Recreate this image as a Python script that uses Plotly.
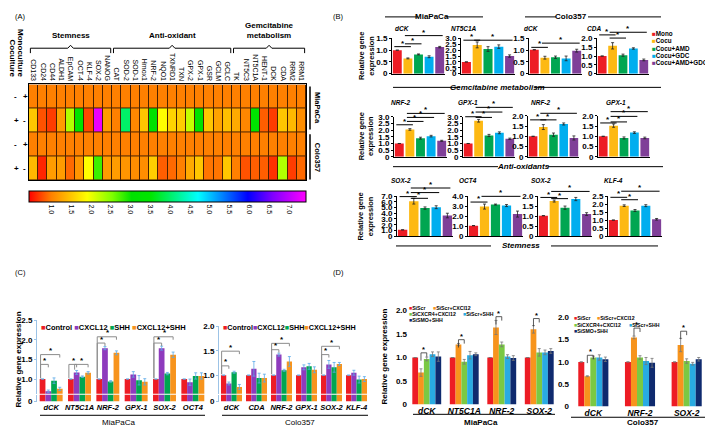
import plotly.graph_objects as go

W, H = 713, 426
FONT = "Liberation Sans, Arial, sans-serif"

# ---------------- panel A : heatmap of relative expression
genes = ["CD133", "CD24", "CD44", "ALDH1", "EpCAM", "OCT-4", "KLF-4", "SOX-2", "NANOG",
         "CAT", "SOD-2", "SOD-1", "Hmox1", "NRF-2", "NQO1", "TXNRD1", "TXN", "GPX-2", "GPX-1",
         "GSR", "GCLM", "GCLC",
         "TK", "NT5C3", "NT5C1A", "HENT-1", "DCK", "CDA", "RRM2", "RRM1"]
group_names = ["Stemness", "Anti-oxidant", "Gemcitabine<br>metabolism"]
group_sizes = [9, 13, 8]
row_ids = ["MiaPaCa mono", "MiaPaCa cocu", "Colo357 mono", "Colo357 cocu"]
monoculture = ["+", "-", "+", "-"]
coculture = ["-", "+", "-", "+"]

mia_mono = [1.0, 1.0, 1.0, 1.0, 1.0, 1.0, 1.0, 1.0, 1.0, 1.0, 1.0, 1.0, 1.0, 1.0, 1.0,
            1.0, 1.0, 1.0, 1.0, 1.0, 1.0, 1.0, 1.0, 1.0, 1.0, 1.0, 1.0, 1.0, 1.0, 1.0]
mia_cocu = [1.5, 0.8, 0.7, 1.2, 2.3, 3.1, 0.75, 7.3, 1.2, 1.0, 4.0, 1.05, 1.5, 3.1, 1.9,
            1.6, 1.55, 2.2, 3.1, 1.5, 1.25, 1.45, 1.3, 1.05, 3.2, 0.85, 0.7, 1.5, 1.4, 1.1]
colo_mono = [1.0, 1.0, 1.0, 1.0, 1.0, 1.0, 1.0, 1.0, 1.0, 1.0, 1.0, 1.0, 1.0, 1.0, 1.0,
             1.0, 1.0, 1.0, 1.0, 1.0, 1.0, 1.0, 1.0, 1.0, 1.0, 1.0, 1.0, 1.0, 1.0, 1.0]
colo_cocu = [1.4, 0.6, 1.2, 1.2, 0.9, 1.15, 1.9, 2.8, 1.2, 1.2, 1.15, 1.1, 1.1, 1.55, 0.85,
             0.9, 1.0, 1.3, 1.5, 0.95, 0.95, 1.5, 1.0, 0.8, 0.85, 0.85, 0.65, 2.3, 0.7, 0.9]
cbar_ticks = [1.0, 1.5, 2.0, 2.5, 3.0, 3.5, 4.0, 4.5, 5.0, 5.5, 6.0, 6.5, 7.0]

# ---------------- panel B : qPCR, five treatments
treatments = ["Mono", "Cocu", "Cocu+AMD", "Cocu+GDC", "Cocu+AMD+GDC"]
treat_colors = ["#ed1c24", "#fdb913", "#00a651", "#00aeef", "#7f3f98"]

mia_dck = [1.0, 0.65, 0.82, 0.72, 1.13]
mia_nt5c1a = [1.0, 2.45, 2.1, 2.3, 1.5]
colo_dck = [1.02, 0.68, 0.7, 0.65, 0.98]
colo_cda = [1.0, 1.58, 1.05, 1.43, 0.78]
mia_nrf2 = [1.0, 2.05, 1.4, 1.55, 1.2]
mia_gpx1 = [1.0, 2.7, 1.6, 1.8, 1.35]
colo_nrf2 = [1.0, 1.45, 1.08, 1.6, 0.92]
colo_gpx1 = [1.0, 1.52, 0.92, 1.18, 0.92]
mia_sox2 = [1.1, 6.1, 4.9, 5.05, 3.6]
mia_oct4 = [1.05, 2.95, 3.15, 3.05, 2.2]
colo_sox2 = [1.02, 1.75, 1.42, 1.85, 1.1]
colo_klf4 = [1.0, 1.9, 1.6, 1.9, 1.05]

mia_dck_err = [0.0, 0.02, 0.02, 0.04, 0.03]
mia_nt5c1a_err = [0.0, 0.25, 0.2, 0.15, 0.1]
colo_dck_err = [0.0, 0.06, 0.05, 0.1, 0.06]
colo_cda_err = [0.0, 0.18, 0.06, 0.04, 0.05]
mia_nrf2_err = [0.0, 0.06, 0.07, 0.06, 0.04]
mia_gpx1_err = [0.0, 0.1, 0.08, 0.07, 0.05]
colo_nrf2_err = [0.0, 0.12, 0.08, 0.05, 0.1]
colo_gpx1_err = [0.0, 0.08, 0.05, 0.04, 0.04]
mia_sox2_err = [0.0, 0.5, 0.2, 0.25, 0.4]
mia_oct4_err = [0.0, 0.25, 0.05, 0.1, 0.3]
colo_sox2_err = [0.0, 0.05, 0.08, 0.08, 0.07]
colo_klf4_err = [0.0, 0.05, 0.06, 0.06, 0.05]

# ---------------- panel C : CXCL12 / SHH
c_series = ["Control", "CXCL12", "SHH", "CXCL12+SHH"]
c_colors = ["#ed1c24", "#8e3bbd", "#00a651", "#f7941d"]
c_genes_mia = ["dCK", "NT5C1A", "NRF-2", "GPX-1", "SOX-2", "OCT4"]
c_genes_colo = ["dCK", "CDA", "NRF-2", "GPX-1", "SOX-2", "KLF-4"]

c_mia_control = [1.0, 1.0, 1.0, 1.0, 1.0, 1.0]
c_mia_cxcl12 = [0.69, 1.17, 1.79, 1.12, 1.79, 0.92]
c_mia_shh = [0.96, 1.06, 0.94, 0.97, 1.14, 1.08]
c_mia_both = [0.75, 1.16, 1.67, 0.93, 1.62, 1.08]
c_colo_control = [1.0, 1.0, 1.0, 1.0, 1.0, 1.0]
c_colo_cxcl12 = [0.83, 1.13, 1.42, 1.16, 1.22, 1.05]
c_colo_shh = [1.06, 0.94, 1.1, 1.18, 1.16, 0.91]
c_colo_both = [0.76, 0.94, 1.28, 1.11, 1.23, 0.92]

c_mia_control_err = [0.0, 0.0, 0.0, 0.0, 0.0, 0.0]
c_mia_cxcl12_err = [0.03, 0.05, 0.04, 0.07, 0.05, 0.08]
c_mia_shh_err = [0.07, 0.02, 0.02, 0.12, 0.03, 0.08]
c_mia_both_err = [0.04, 0.03, 0.05, 0.08, 0.07, 0.08]
c_colo_control_err = [0.0, 0.0, 0.0, 0.0, 0.0, 0.0]
c_colo_cxcl12_err = [0.03, 0.15, 0.03, 0.05, 0.08, 0.05]
c_colo_shh_err = [0.02, 0.1, 0.02, 0.06, 0.1, 0.07]
c_colo_both_err = [0.05, 0.08, 0.1, 0.06, 0.03, 0.05]

# ---------------- panel D : siRNA
d_series = ["SiScr", "SiScr+CXCl12", "SiCXCR4+CXCl12", "SiScr+SHH", "SiSMO+SHH"]
d_colors = ["#ed1c24", "#f7941d", "#7ac943", "#29abe2", "#0f2a6e"]
d_genes_mia = ["dCK", "NT5C1A", "NRF-2", "SOX-2"]
d_genes_colo = ["dCK", "NRF-2", "SOX-2"]

d_mia_siscr = [1.0, 1.0, 1.0, 1.0]
d_mia_siscr_cxcl12 = [0.68, 1.28, 1.64, 1.6]
d_mia_sicxcr4 = [0.97, 0.91, 1.28, 1.11]
d_mia_siscr_shh = [1.07, 1.05, 1.02, 1.11]
d_mia_sismo = [1.02, 1.07, 0.99, 1.14]
d_colo_siscr = [1.0, 1.0, 1.0]
d_colo_siscr_cxcl12 = [0.68, 1.55, 1.38]
d_colo_sicxcr4 = [1.1, 1.1, 1.02]
d_colo_siscr_shh = [1.1, 1.02, 0.96]
d_colo_sismo = [1.06, 0.98, 1.06]

d_mia_siscr_err = [0.0, 0.0, 0.0, 0.0]
d_mia_siscr_cxcl12_err = [0.08, 0.02, 0.15, 0.08]
d_mia_sicxcr4_err = [0.04, 0.05, 0.05, 0.08]
d_mia_siscr_shh_err = [0.05, 0.08, 0.04, 0.05]
d_mia_sismo_err = [0.1, 0.03, 0.05, 0.05]
d_colo_siscr_err = [0.0, 0.0, 0.0]
d_colo_siscr_cxcl12_err = [0.01, 0.03, 0.15]
d_colo_sicxcr4_err = [0.03, 0.04, 0.05]
d_colo_siscr_shh_err = [0.06, 0.08, 0.03]
d_colo_sismo_err = [0.05, 0.1, 0.04]


def fx(x):
    return x / W


def fy(y):
    return 1 - y / H


fig = go.Figure()
layout = {}
shapes = []
annots = []


def font(size=8, bold=False, italic=False, color="black"):
    return dict(family=FONT, size=size, color=color,
                weight="bold" if bold else "normal",
                style="italic" if italic else "normal")


def text(x, y, s, size=8, bold=False, italic=False, angle=0, xanchor="center", yanchor="middle"):
    annots.append(dict(x=fx(x), y=fy(y), xref="paper", yref="paper", text=s, showarrow=False,
                       font=font(size, bold, italic), textangle=angle,
                       xanchor=xanchor, yanchor=yanchor, borderpad=0))


def line(x0, y0, x1, y1, color="black", width=1):
    shapes.append(dict(type="line", xref="paper", yref="paper", x0=fx(x0), y0=fy(y0),
                       x1=fx(x1), y1=fy(y1), line=dict(color=color, width=width)))


def path(pts, color="black", width=1):
    d = "M" + " L".join(f"{fx(a):.5f},{fy(b):.5f}" for a, b in pts)
    shapes.append(dict(type="path", xref="paper", yref="paper", path=d,
                       line=dict(color=color, width=width)))


def bar_px(x0, x1, ncat, k, i=0, n=1, f=1.0):
    pos = k - f / 2 + (i + 0.5) * f / n
    return x0 + (pos + 0.5) / ncat * (x1 - x0)


def val_px(yb, yt, r0, r1, v):
    return yb - (v - r0) / (r1 - r0) * (yb - yt)


def legend_item(x, y, name, color, size):
    text(x, y, f"<span style='color:{color}'>■</span>{name}", size=size, bold=True, xanchor="left")


# ================= panel A
rainbow = [[0.0, "rgb(255,0,0)"], [0.08, "rgb(255,128,0)"], [0.21, "rgb(255,255,0)"],
           [0.3, "rgb(128,255,0)"], [0.37, "rgb(0,225,0)"], [0.44, "rgb(0,230,0)"],
           [0.61, "rgb(0,255,255)"], [0.79, "rgb(0,0,255)"], [0.88, "rgb(128,0,255)"],
           [1.0, "rgb(255,0,255)"]]

fig.add_trace(go.Heatmap(
    z=[mia_mono, mia_cocu, colo_mono, colo_cocu], x=genes, y=row_ids,
    colorscale=rainbow, zmin=0.44, zmax=7.43, xgap=1, ygap=1, xaxis="x", yaxis="y",
    hoverinfo="skip",
    colorbar=dict(orientation="h", x=fx(159.5), xanchor="center", y=fy(183), yanchor="top",
                  len=277 / W, lenmode="fraction", thickness=11, thicknessmode="pixels",
                  xpad=0, ypad=0, outlinewidth=1, outlinecolor="black", ticks="",
                  tickvals=cbar_ticks, ticktext=[f"{v:.1f}" for v in cbar_ticks],
                  tickangle=90, tickfont=font(7))))

layout["xaxis"] = dict(domain=[fx(21), fx(298)], anchor="y", side="top", tickangle=90,
                       tickfont=font(7), ticks="", showline=True, mirror=True,
                       linecolor="black", linewidth=1, showgrid=False)
layout["yaxis"] = dict(domain=[fy(172), fy(74)], anchor="x", autorange="reversed",
                       showticklabels=False, ticks="", showline=True, mirror=True,
                       linecolor="black", linewidth=1, showgrid=False)
shapes.append(dict(type="rect", xref="x", yref="y", x0=-0.5, x1=len(genes) - 0.5,
                   y0=-0.5, y1=len(row_ids) - 0.5, layer="below",
                   fillcolor="#4a2000", line=dict(width=0)))

# group brackets above the gene names
start = -0.5
for name, size in zip(group_names, group_sizes):
    a, b = start, start + size
    m = (a + b) / 2
    shapes.append(dict(type="path", xref="x", yref="paper",
                       path=f"M{a + 0.15},{fy(42)} L{a + 0.15},{fy(37)} L{m - 0.3},{fy(37)} "
                            f"L{m},{fy(34)} L{m + 0.3},{fy(37)} L{b - 0.15},{fy(37)} L{b - 0.15},{fy(42)}",
                       line=dict(color="black", width=1)))
    annots.append(dict(x=m, xref="x", y=fy(31), yref="paper", text=name, showarrow=False,
                       font=font(8, bold=True), yanchor="bottom", xanchor="center"))
    start = b

text(4, 68, "Coculture", size=8, bold=True, angle=90, yanchor="bottom")
text(13, 68, "Monoculture", size=8, bold=True, angle=90, yanchor="bottom")
for rid, co, mo in zip(row_ids, coculture, monoculture):
    for xx, s in ((4, co), (13, mo)):
        annots.append(dict(x=fx(xx), xref="paper", y=rid, yref="y", text=s, showarrow=False,
                           font=font(8, bold=True)))
line(302, 76, 302, 120, width=1.5)
line(302, 125, 302, 171, width=1.5)
text(309, 98, "MiaPaCa", size=7.5, bold=True, angle=90)
text(309, 148, "Colo357", size=7.5, bold=True, angle=90)

text(12, 5, "(A)", size=7.5)
text(330, 5, "(B)", size=7.5)
text(12, 266, "(C)", size=7.5)
text(330, 266, "(D)", size=7.5)

# ================= panel B
b_panels = [
    ("dCK", mia_dck, mia_dck_err, 384, 437, 63, 27, 1.5, 0.5, 395, 17,
     [(0, 1, 1.15), (1, 2, 1.27), (1, 4, 1.62)]),
    ("NT5C1A", mia_nt5c1a, mia_nt5c1a_err, 453, 507, 63, 27, 3.0, 0.5, 456, 17,
     [(0, 1, 2.85), (1, 4, 2.85)]),
    ("dCK", colo_dck, colo_dck_err, 521, 574, 63, 27, 1.5, 0.5, 523, 17,
     [(0, 1, 1.12), (1, 4, 1.3)]),
    ("CDA", colo_cda, colo_cda_err, 589, 641, 63, 27, 2.0, 0.5, 586, 17,
     [(0, 1, 2.2), (1, 2, 2.02), (1, 4, 2.35)]),
    ("NRF-2", mia_nrf2, mia_nrf2_err, 386, 439, 148, 107, 3.0, 0.5, 393, 92,
     [(0, 1, 2.4), (1, 2, 2.65), (1, 3, 2.95), (1, 4, 3.25)]),
    ("GPX-1", mia_gpx1, mia_gpx1_err, 455, 507, 148, 107, 3.0, 0.5, 460, 92,
     [(0, 1, 3.0), (1, 2, 2.95), (1, 3, 3.35), (1, 4, 3.7)]),
    ("NRF-2", colo_nrf2, colo_nrf2_err, 520, 571, 148, 106, 2.0, 0.5, 533, 92,
     [(0, 1, 1.8), (1, 2, 1.8), (1, 4, 2.12)]),
    ("GPX-1", colo_gpx1, colo_gpx1_err, 590, 642, 148, 106, 2.0, 0.5, 608, 92,
     [(0, 1, 1.65), (1, 2, 1.7), (1, 3, 1.97), (1, 4, 2.2)]),
    ("SOX-2", mia_sox2, mia_sox2_err, 389, 445, 229, 188, 7.0, 1.0, 393, 172,
     [(0, 1, 6.9), (1, 2, 6.6), (1, 3, 7.6), (1, 4, 8.4)]),
    ("OCT4", mia_oct4, mia_oct4_err, 460, 515, 229, 188, 4.0, 1.0, 460, 172,
     [(0, 1, 3.4), (1, 4, 3.97)]),
    ("SOX-2", colo_sox2, colo_sox2_err, 530, 584, 229, 188, 2.0, 0.5, 533, 172,
     [(0, 1, 1.93), (1, 2, 1.87), (1, 4, 2.23)]),
    ("KLF-4", colo_klf4, colo_klf4_err, 600, 654, 229, 188, 2.5, 0.5, 605, 172,
     [(0, 1, 2.42), (1, 2, 2.27), (1, 4, 2.8)]),
]

ax = 2
for title, vals, errs, x0, x1, yb, yt, rmax, dt, tx, ty, sigs in b_panels:
    fig.add_trace(go.Bar(x=treatments, y=vals, marker_color=treat_colors, width=0.84,
                         marker_line_width=0, showlegend=False, hoverinfo="skip",
                         error_y=dict(type="data", array=errs, color="#222", thickness=0.8, width=1.5),
                         xaxis=f"x{ax}", yaxis=f"y{ax}"))
    tv = [round(i * dt, 2) for i in range(int(round(rmax / dt)) + 1)]
    layout[f"xaxis{ax}"] = dict(domain=[fx(x0), fx(x1)], anchor=f"y{ax}", range=[-0.5, 4.5],
                                showticklabels=False, ticks="", showline=True, linecolor="black",
                                linewidth=1, showgrid=False, zeroline=False)
    layout[f"yaxis{ax}"] = dict(domain=[fy(yb), fy(yt)], anchor=f"x{ax}", range=[0, rmax],
                                tickvals=tv, ticktext=["0" if v == 0 else f"{v:.1f}" for v in tv],
                                ticks="outside", ticklen=2, tickcolor="black", showline=True,
                                linecolor="black", linewidth=1, showgrid=False, zeroline=False,
                                tickfont=font(8, bold=True))
    text(tx, ty, title, size=6.5, bold=True, italic=True)
    for i, j, v in sigs:
        yy = val_px(yb, yt, 0, rmax, v)
        xa, xb = bar_px(x0, x1, 5, i), bar_px(x0, x1, 5, j)
        line(xa - 3, yy, xb + 3, yy, width=1)
        text((xa + xb) / 2, yy - 3.5, "*", size=8, bold=True)
    ax += 1

for k, (n, c) in enumerate(zip(treatments, treat_colors)):
    legend_item(643, 22 + k * 7.4, n, c, 6.3)

for yy in (45, 127, 209):
    text(358, yy, "Relative gene<br>expression", size=7.5, bold=True, angle=-90)

# header and group labels for B
text(424, 5, "MiaPaCa", size=8, bold=True)
line(377, 5, 410, 5)
line(438, 5, 475, 5)
text(563, 5, "Colo357", size=8, bold=True)
line(517, 5, 548, 5)
line(580, 5, 653, 5)
for label, yy, l1, l2 in (("Gemcitabine metabolism", 77, (385, 452), (527, 653)),
                           ("Anti-oxidants", 158, (385, 490), (540, 655)),
                           ("Stemness", 239, (388, 483), (543, 650))):
    text((l1[1] + l2[0]) / 2, yy, label, size=8, bold=True, italic=True)
    line(l1[0], yy, l1[1], yy)
    line(l2[0], yy, l2[1], yy)

# ================= panel C (broken y axis)
c_panels = [
    (c_genes_mia, [c_mia_control, c_mia_cxcl12, c_mia_shh, c_mia_both],
     [c_mia_control_err, c_mia_cxcl12_err, c_mia_shh_err, c_mia_both_err],
     29, 199, 390, 315, [0.625, 2.5], [1.0, 1.5, 2.0, 2.5], 0.81,
     [(0, 0, 1, 1.375), (0, 0, 3, 1.625), (1, 0, 1, 1.375), (1, 1, 3, 1.375),
      (2, 0, 1, 1.92), (2, 0, 3, 2.08), (4, 0, 1, 1.92), (4, 0, 3, 2.08)],
     "MiaPaCa", 110, (32, 197), 32, 7.5),
    (c_genes_colo, [c_colo_control, c_colo_cxcl12, c_colo_shh, c_colo_both],
     [c_colo_control_err, c_colo_cxcl12_err, c_colo_shh_err, c_colo_both_err],
     211, 361, 390, 321, [0.62, 2.0], [1.0, 1.5, 2.0], 0.84,
     [(0, 0, 1, 1.19), (0, 0, 3, 1.49), (2, 0, 1, 1.52), (2, 0, 3, 1.65),
      (4, 0, 1, 1.42), (4, 0, 3, 1.59)],
     "Colo357", 292, (214, 360), 214, 7.2),
]
xa_id, ya_id = 14, 14
for genes_c, series, errs, x0, x1, yb, yt, rng, tv, f, sigs, cell, cx, uline, lx, lsize in c_panels:
    n = len(series)
    up, lo = ya_id, ya_id + 1
    for i, (vals, e) in enumerate(zip(series, errs)):
        common = dict(x=genes_c, y=vals, name=c_series[i], marker_color=c_colors[i],
                      marker_line_width=0, width=f / n, offset=-f / 2 + i * f / n,
                      showlegend=False, hoverinfo="skip", xaxis=f"x{xa_id}")
        fig.add_trace(go.Bar(**common, yaxis=f"y{up}",
                             error_y=dict(type="data", array=e, color="#5aaae8",
                                          thickness=0.8, width=1.5)))
        fig.add_trace(go.Bar(**common, yaxis=f"y{lo}"))
    layout[f"xaxis{xa_id}"] = dict(domain=[fx(x0), fx(x1)], anchor=f"y{lo}",
                                   range=[-0.5, len(genes_c) - 0.5], ticks="", tickangle=0,
                                   showline=False, showgrid=False, zeroline=False,
                                   tickfont=font(7.5, bold=True, italic=True))
    layout[f"yaxis{up}"] = dict(domain=[fy(yb), fy(yt)], anchor=f"x{xa_id}", range=rng,
                                tickvals=tv, ticktext=[f"{v:.1f}" for v in tv],
                                ticks="outside", ticklen=2, tickcolor="#9cc3e6",
                                showline=True, linecolor="#9cc3e6", showgrid=False,
                                zeroline=False, tickfont=font(8, bold=True))
    layout[f"yaxis{lo}"] = dict(domain=[fy(398), fy(391)], anchor=f"x{xa_id}", range=[0, 0.5],
                                tickvals=[0], ticktext=["0"], ticks="outside", ticklen=2,
                                tickcolor="#9cc3e6", showline=True, linecolor="#9cc3e6",
                                showgrid=False, zeroline=False, tickfont=font(8, bold=True))
    for k, i, j, v in sigs:
        xi = bar_px(x0, x1, len(genes_c), k, i, n, f)
        xj = bar_px(x0, x1, len(genes_c), k, j, n, f)
        ytop = val_px(yb, yt, rng[0], rng[1], series[i][k] + errs[i][k] + 0.02)
        yy = val_px(yb, yt, rng[0], rng[1], v)
        path([(xi - 2, ytop), (xi - 2, yy), (xj, yy), (xj, yy + 3)], color="#8c8c8c", width=1)
        text((xi + xj) / 2, yy - 4, "*", size=8, bold=True)
    line(uline[0], 412, uline[1], 412)
    text(cx, 419, cell, size=8)
    legend_txt = "".join(f"<span style='color:{c}'>■</span>{s}" + (" " if x0 < 100 else "")
                         for s, c in zip(c_series, c_colors))
    text(lx, 322, legend_txt, size=lsize, bold=True, xanchor="left")
    xa_id += 1
    ya_id += 2
text(10, 355, "Relative gene expression", size=8, bold=True, angle=-90)

# ================= panel D
d_panels = [
    (d_genes_mia, [d_mia_siscr, d_mia_siscr_cxcl12, d_mia_sicxcr4, d_mia_siscr_shh, d_mia_sismo],
     [d_mia_siscr_err, d_mia_siscr_cxcl12_err, d_mia_sicxcr4_err, d_mia_siscr_shh_err, d_mia_sismo_err],
     400, 550, 401, 305, 0.77, [(0, 1.1), (1, 1.38), (2, 1.87), (3, 1.83)],
     "MiaPaCa", 473, (405, 547), 411,
     (400, [(302, 0), (302, 1), (308.5, 2), (308.5, 3), (315, 4)], (424, 454))),
    (d_genes_colo, [d_colo_siscr, d_colo_siscr_cxcl12, d_colo_sicxcr4, d_colo_siscr_shh, d_colo_sismo],
     [d_colo_siscr_err, d_colo_siscr_cxcl12_err, d_colo_sicxcr4_err, d_colo_siscr_shh_err, d_colo_sismo_err],
     562, 702, 403, 312, 0.645, [(0, 1.15), (1, 1.76), (2, 1.69)],
     "Colo357", 635, (563, 698), 414,
     (565, [(313, 0), (313, 1), (319.5, 2), (319.5, 3), (326, 4)], (588, 620))),
]
xd, yd = 16, 18
for genes_d, series, errs, x0, x1, yb, yt, f, sigs, cell, cx, uline, uy, leg in d_panels:
    n = len(series)
    for i, (vals, e) in enumerate(zip(series, errs)):
        fig.add_trace(go.Bar(x=genes_d, y=vals, name=d_series[i], marker_color=d_colors[i],
                             marker_line_width=0, width=f / n, offset=-f / 2 + i * f / n,
                             showlegend=False, hoverinfo="skip", xaxis=f"x{xd}", yaxis=f"y{yd}",
                             error_y=dict(type="data", array=e, color="#777", thickness=0.8, width=1.5)))
    layout[f"xaxis{xd}"] = dict(domain=[fx(x0), fx(x1)], anchor=f"y{yd}",
                                range=[-0.5, len(genes_d) - 0.5], ticks="", tickangle=0,
                                showline=False, showgrid=False, zeroline=False,
                                tickfont=font(8.5, bold=True, italic=True))
    layout[f"yaxis{yd}"] = dict(domain=[fy(yb), fy(yt)], anchor=f"x{xd}", range=[0, 2.0],
                                tickvals=[0, 0.5, 1.0, 1.5, 2.0],
                                ticktext=["0", "0.5", "1.0", "1.5", "2.0"], ticks="",
                                showline=False, showgrid=False, zeroline=False,
                                tickfont=font(8, bold=True))
    for k, v in sigs:
        xi = bar_px(x0, x1, len(genes_d), k, 1, n, f)
        xj = bar_px(x0, x1, len(genes_d), k, 2, n, f)
        yy = val_px(yb, yt, 0, 2.0, v)
        path([(xi, yy + 8), (xi, yy), (xj, yy), (xj, yy + 4)], color="#333", width=0.8)
        text((xi + xj) / 2, yy - 3.5, "*", size=7.5, bold=True)
    line(uline[0], uy, uline[1], uy)
    text(cx, 419, cell, size=8, bold=True)
    lx, rows, second_x = leg
    for yy, i in rows:
        xx = lx if i in (0, 2, 4) else second_x[0 if i == 1 else 1]
        legend_item(xx, yy, d_series[i], d_colors[i], 5.2)
    xd += 1
    yd += 1
text(377, 352, "Relative gene expression", size=8, bold=True, angle=-90)

layout.update(width=W, height=H, margin=dict(l=0, r=0, t=0, b=0), paper_bgcolor="white",
              plot_bgcolor="rgba(0,0,0,0)", showlegend=False, barmode="overlay",
              font=dict(family=FONT, color="black"), shapes=shapes, annotations=annots)
fig.update_layout(**layout)
fig.write_html("out.html")
